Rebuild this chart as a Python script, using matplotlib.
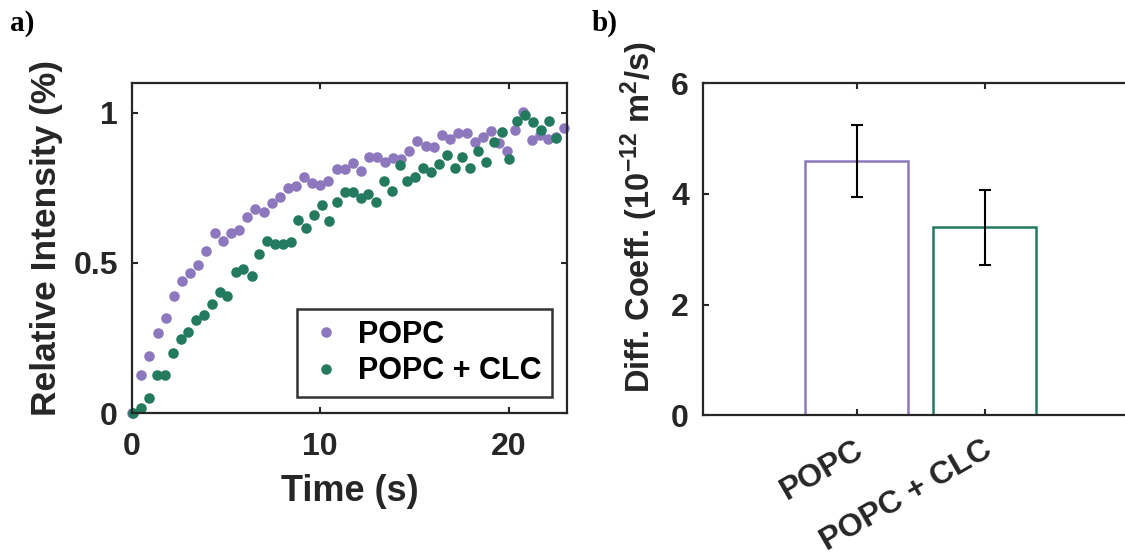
import matplotlib.pyplot as plt
from matplotlib.transforms import ScaledTranslation

plt.rcParams['font.family'] = ['Liberation Sans', 'DejaVu Sans']
plt.rcParams['font.weight'] = 'bold'
plt.rcParams['axes.labelweight'] = 'bold'
plt.rcParams['mathtext.fontset'] = 'custom'
plt.rcParams['mathtext.rm'] = 'Liberation Sans:bold'
plt.rcParams['mathtext.it'] = 'Liberation Sans:bold'
plt.rcParams['mathtext.bf'] = 'Liberation Sans:bold'

# panel a: FRAP recovery
t_popc = [0.0, 0.46, 0.92, 1.37, 1.79, 2.22, 2.64, 3.09, 3.53, 3.95, 4.40, 4.82, 5.25,
          5.69, 6.12, 6.54, 6.99, 7.43, 7.85, 8.28, 8.71, 9.13, 9.56, 9.98, 10.43,
          10.87, 11.29, 11.72, 12.15, 12.59, 13.01, 13.44, 13.87, 14.31, 14.73, 15.16,
          15.59, 16.03, 16.45, 16.88, 17.32, 17.77, 18.19, 18.63, 19.06, 19.49, 19.91,
          20.35, 20.78, 21.22, 21.65, 22.07, 22.50, 22.94]
i_popc = [0.0, 0.126, 0.19, 0.267, 0.318, 0.389, 0.439, 0.467, 0.492, 0.54, 0.599, 0.574,
          0.599, 0.609, 0.652, 0.679, 0.67, 0.701, 0.721, 0.751, 0.756, 0.787, 0.766,
          0.759, 0.774, 0.814, 0.814, 0.832, 0.808, 0.854, 0.852, 0.838, 0.849, 0.848,
          0.874, 0.907, 0.889, 0.887, 0.928, 0.913, 0.934, 0.933, 0.904, 0.921, 0.94,
          0.90, 0.874, 0.942, 1.002, 0.911, 0.927, 0.913, 0.92, 0.949]

t_clc = [0.04, 0.46, 0.92, 1.31, 1.76, 2.16, 2.59, 3.00, 3.42, 3.85, 4.26, 4.66, 5.07,
         5.50, 5.92, 6.35, 6.74, 7.16, 7.57, 8.00, 8.42, 8.83, 9.24, 9.65, 10.07, 10.48,
         10.90, 11.31, 11.74, 12.15, 12.55, 12.98, 13.39, 13.81, 14.22, 14.63, 15.05,
         15.46, 15.89, 16.31, 16.72, 17.15, 17.55, 17.96, 18.39, 18.81, 19.22, 19.65,
         20.04, 20.46, 20.89, 21.31, 21.72, 22.15, 22.54]
i_clc = [0.0, 0.017, 0.05, 0.126, 0.126, 0.20, 0.247, 0.271, 0.311, 0.326, 0.364, 0.404,
         0.391, 0.469, 0.481, 0.457, 0.53, 0.573, 0.563, 0.564, 0.571, 0.643, 0.616,
         0.661, 0.694, 0.64, 0.704, 0.736, 0.736, 0.716, 0.729, 0.702, 0.774, 0.741,
         0.828, 0.774, 0.787, 0.816, 0.803, 0.83, 0.861, 0.817, 0.854, 0.817, 0.872,
         0.836, 0.902, 0.937, 0.848, 0.974, 0.992, 0.971, 0.942, 0.972, 0.916]

# panel b: diffusion coefficients
groups = ['POPC', 'POPC + CLC']
diff_coeff = [4.6, 3.4]
diff_err = [0.65, 0.68]

a_xticks = [0, 10, 20]
a_yticks = [0, 0.5, 1]
a_yticklabels = ['0', '0.5', '1']
b_yticks = [0, 2, 4, 6]

purple = '#8E78BD'
green = '#237A5F'
ink = '#262626'

fig = plt.figure(figsize=(11.25, 5.52), dpi=100)

def style_axes(ax):
    for s in ax.spines.values():
        s.set_color(ink)
        s.set_linewidth(1.6)
    ax.tick_params(direction='in', length=4, width=1.5, colors=ink,
                   top=True, right=True, labelsize=23)
    ax.tick_params(axis='x', pad=14)
    ax.tick_params(axis='y', pad=10)

# ---- a)
ax1 = fig.add_axes([0.1173, 0.2518, 0.3867, 0.598])
ax1.plot(t_popc, i_popc, 'o', ms=7.6, color=purple, mec='none', label='POPC', clip_on=False)
ax1.plot(t_clc, i_clc, 'o', ms=7.6, color=green, mec='none', label='POPC + CLC', clip_on=False)
ax1.set_xlim(0, 23.1)
ax1.set_ylim(0, 1.1)
ax1.set_xticks(a_xticks)
ax1.set_yticks(a_yticks)
ax1.set_yticklabels(a_yticklabels)
style_axes(ax1)
ax1.set_xlabel('Time (s)', fontsize=26, color=ink)
ax1.xaxis.set_label_coords(0.5, -0.185)
ax1.set_ylabel('Relative Intensity (%)', fontsize=25.5, color=ink)
ax1.yaxis.set_label_coords(-0.159, 0.529)
leg = ax1.legend(loc='lower right', bbox_to_anchor=(0.9655, 0.0485), fontsize=22,
                 frameon=True, fancybox=False, borderpad=0.35, labelspacing=0.2,
                 handlelength=1.2, handletextpad=0.45, borderaxespad=0)
leg.get_frame().set_edgecolor('black')
leg.get_frame().set_linewidth(1.8)

# ---- b)
ax2 = fig.add_axes([0.6249, 0.248, 0.3867, 0.601])
x = [1, 2]
ax2.bar(x, diff_coeff, width=0.8, facecolor='white', edgecolor=[purple, green], linewidth=1.8)
ax2.errorbar(x, diff_coeff, yerr=diff_err, fmt='none', ecolor='black',
             elinewidth=1.5, capsize=4.5, capthick=1.5)
ax2.set_xlim(-0.2, 3.2)
ax2.set_ylim(0, 6)
ax2.set_xticks(x)
ax2.set_yticks(b_yticks)
style_axes(ax2)
ax2.set_xticklabels(groups, rotation=30, ha='right', va='top')
off = ScaledTranslation(9 / 72, 0, fig.dpi_scale_trans)
for lab in ax2.get_xticklabels():
    lab.set_transform(lab.get_transform() + off)
ax2.set_ylabel(r'Diff. Coeff. (10$^{-12}$ m$^{2}$/s)', fontsize=23.5, color=ink)
ax2.yaxis.set_label_coords(-0.099, 0.595)

fig.text(10 / 1125, 1 - 10 / 552, 'a)', family='Liberation Serif', fontsize=21,
         fontweight='bold', ha='left', va='top')
fig.text(592 / 1125, 1 - 10 / 552, 'b)', family='Liberation Serif', fontsize=21,
         fontweight='bold', ha='left', va='top')

fig.savefig('out.png', dpi=100)
